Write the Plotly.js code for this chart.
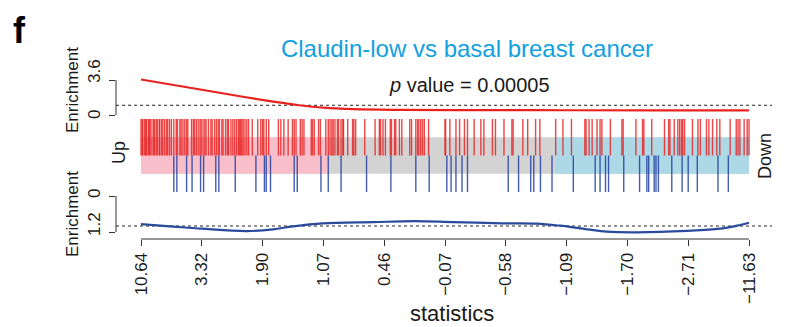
<!DOCTYPE html>
<html>
<head>
<meta charset="utf-8">
<script src="https://cdn.plot.ly/plotly-3.0.1.min.js"></script>
<style>html,body{margin:0;padding:0;background:#fff;}#chart{width:787px;height:327px;}</style>
</head>
<body>
<div id="chart"></div>
<script>
// ---------------- data ----------------
const nGenes = 1000;                       // rank axis 0..nGenes
const tickRanks = [0, 100, 200, 300, 400, 500, 600, 700, 800, 900, 1000];
const tickLabels = ["10.64", "3.32", "1.90", "1.07", "0.46", "\u22120.07", "\u22120.58", "\u22121.09", "\u22121.70", "\u22122.71", "\u221211.63"];

// ranks of the "up" gene set (red bars)
const upRanks = [0,2,3,6,8,9,12,14,15,18,21,22,25,27,30,31,34,36,39,42,44,47,50,54,58,60,64,66,69,72,75,77,83,86,88,91,94,97,99,102,105,107,111,115,117,121,124,127,129,133,135,139,142,144,148,151,154,157,160,162,164,166,168,171,174,177,183,192,197,200,202,206,210,226,230,235,242,249,252,255,262,265,268,280,282,285,292,295,304,308,311,314,316,319,323,325,329,332,333,340,348,350,353,368,385,392,394,398,402,410,412,417,419,425,429,442,445,452,455,457,460,463,466,473,500,501,508,518,524,532,537,548,559,564,578,583,597,610,612,628,636,649,656,682,694,708,730,732,737,742,750,755,758,772,791,793,814,825,827,840,861,868,870,877,883,886,889,891,894,907,916,920,930,934,940,947,952,969,979,982,985,992,997,1000];

// ranks of the "down" gene set (blue bars)
const downRanks = [54,59,75,84,98,103,123,128,155,189,203,206,213,252,257,296,308,329,371,411,452,474,503,510,518,528,537,604,621,641,646,657,676,711,747,755,764,769,794,820,832,835,844,847,851,873,890,900,915,949,966];

// statistic-threshold bands (rank where stat leaves the middle band)
const upBandEnd = 308;
const downBandStart = 681;

// running enrichment, up set (top panel)
const upCurveRanks = [0, 100, 170, 220, 260, 300, 350, 420, 550, 700, 850, 1000];
const upCurveVals  = [3.65, 2.6, 1.85, 1.35, 1.0, 0.75, 0.6, 0.53, 0.5, 0.49, 0.48, 0.47];

// running enrichment, down set (bottom panel)
const downCurveRanks = [0, 53, 100, 174, 217, 250, 299, 382, 450, 513, 595, 651, 689, 734, 766, 816, 898, 952, 980, 1000];
const downCurveVals  = [0.94, 1.02, 1.09, 1.17, 1.11, 1.01, 0.91, 0.87, 0.84, 0.87, 0.91, 0.92, 0.99, 1.11, 1.19, 1.21, 1.16, 1.09, 0.99, 0.89];

const upAxisTicks = [0, 3.6];
const downAxisTicks = [0, 1.2];
const refLevel = 1;
const titleText = "Claudin-low vs basal breast cancer";
const pText = "<i>p</i> value = 0.00005";

// ---------------- layout helpers ----------------
const W = 787, H = 327, ML = 116, MR = 15;
const plotW = W - ML - MR;
const px2x = p => (p - ML) / plotW;
const py2y = p => 1 - p / H;
const FONT = "Liberation Sans, Arial, Helvetica, sans-serif";
const TXT = "#1a1a1a";
const AX = "#333333";

// x mapping: rank 0 at px 141, rank nGenes at px 749, plot from 116 to 772
const rpp = nGenes / (749 - 141);
const xRange = [-(141 - ML) * rpp, nGenes + ((W - MR) - 749) * rpp];

function bars(ranks, y0, y1) {
  const x = [], y = [];
  ranks.forEach(r => { x.push(r, r, null); y.push(y0, y1, null); });
  return {x, y};
}
function rect(x0, x1, y0, y1) {
  return {x: [x0, x1, x1, x0, x0], y: [y0, y0, y1, y1, y0]};
}

const greyR = rect(tickRanks[0], nGenes, 1, 3);
const pinkR = rect(tickRanks[0], upBandEnd, 1, 3);
const blueR = rect(downBandStart, nGenes, 1, 3);
const upB = bars(upRanks, 2, 4);
const dnB = bars(downRanks, 0, 2);

const traces = [
  {type: "scatter", mode: "lines", x: greyR.x, y: greyR.y, yaxis: "y2", fill: "toself", fillcolor: "#d3d3d3", line: {width: 0}, hoverinfo: "skip"},
  {type: "scatter", mode: "lines", x: pinkR.x, y: pinkR.y, yaxis: "y2", fill: "toself", fillcolor: "#f8bfcb", line: {width: 0}, hoverinfo: "skip"},
  {type: "scatter", mode: "lines", x: blueR.x, y: blueR.y, yaxis: "y2", fill: "toself", fillcolor: "#add8e6", line: {width: 0}, hoverinfo: "skip"},
  {type: "scatter", mode: "lines", x: upB.x, y: upB.y, yaxis: "y2", line: {color: "rgba(232,30,30,0.82)", width: 1.4}, hoverinfo: "skip"},
  {type: "scatter", mode: "lines", x: dnB.x, y: dnB.y, yaxis: "y2", line: {color: "rgba(35,65,160,0.85)", width: 1.4}, hoverinfo: "skip"},
  {type: "scatter", mode: "lines", x: upCurveRanks, y: upCurveVals, yaxis: "y", line: {color: "#e8231f", width: 2.2, shape: "spline"}, cliponaxis: false},
  {type: "scatter", mode: "lines", x: downCurveRanks, y: downCurveVals, yaxis: "y3", line: {color: "#2a4a9c", width: 2.2, shape: "spline"}, cliponaxis: false}
];

const hiddenY = {showgrid: false, zeroline: false, showline: false, showticklabels: false, ticks: ""};

const layout = {
  width: W, height: H,
  margin: {l: ML, r: MR, t: 0, b: 0, pad: 0},
  paper_bgcolor: "#fff", plot_bgcolor: "rgba(0,0,0,0)",
  showlegend: false,
  font: {family: FONT, color: TXT},
  title: {text: titleText, font: {family: FONT, size: 24, color: "#13a0e0"}, x: 467 / W, xref: "container", xanchor: "center", y: 1 - 49 / H, yref: "container", yanchor: "middle"},
  xaxis: {
    domain: [0, 1], range: xRange, anchor: "y3",
    tickmode: "array", tickvals: tickRanks, ticktext: tickLabels, tickangle: -90,
    ticks: "outside", ticklen: 6, tickcolor: AX, tickwidth: 1,
    tickfont: {family: FONT, size: 17, color: TXT},
    showgrid: false, zeroline: false, showline: false
  },
  yaxis: {
    domain: [py2y(118), py2y(77)], range: [-(118 - 115) / (35 / 3.6), 3.6 + (80 - 77) / (35 / 3.6)],
    tickmode: "array", tickvals: upAxisTicks, ticks: "outside", ticklen: 6, tickcolor: AX,
    showticklabels: false, showgrid: false, zeroline: false, showline: false
  },
  yaxis2: Object.assign({domain: [py2y(192), py2y(119)], range: [0, 4], anchor: "x"}, hiddenY),
  yaxis3: {
    domain: [py2y(239), py2y(190)], range: [1.2 + 7 / 30, -6 / 30],
    tickmode: "array", tickvals: downAxisTicks, ticks: "outside", ticklen: 6, tickcolor: AX,
    showticklabels: false, showgrid: false, zeroline: false, showline: false
  },
  shapes: [
    {type: "line", xref: "x", yref: "y3 domain", x0: tickRanks[0], x1: nGenes, y0: 0, y1: 0, line: {color: AX, width: 1}},
    {type: "line", xref: "paper", yref: "y", x0: 0, x1: 0, y0: upAxisTicks[0], y1: upAxisTicks[1], line: {color: AX, width: 1}},
    {type: "line", xref: "paper", yref: "y3", x0: 0, x1: 0, y0: downAxisTicks[0], y1: downAxisTicks[1], line: {color: AX, width: 1}},
    {type: "line", xref: "paper", yref: "y", x0: 0, x1: 1, y0: refLevel, y1: refLevel, line: {color: "#222", width: 1, dash: "3px,3px"}, layer: "below"},
    {type: "line", xref: "paper", yref: "y3", x0: 0, x1: 1, y0: refLevel, y1: refLevel, line: {color: "#222", width: 1, dash: "3px,3px"}, layer: "below"}
  ],
  annotations: [
    {text: "<b>f</b>", xref: "paper", yref: "paper", x: px2x(19), y: py2y(30), xanchor: "center", yanchor: "middle", showarrow: false, font: {size: 36, color: "#000"}},
    {text: pText, xref: "paper", yref: "paper", x: px2x(469.5), y: py2y(85), xanchor: "center", yanchor: "middle", showarrow: false, font: {size: 20, color: TXT}},
    {text: "Enrichment", xref: "paper", yref: "paper", x: px2x(72), y: py2y(90), textangle: -90, xanchor: "center", yanchor: "middle", showarrow: false, font: {size: 17, color: TXT}},
    {text: "Enrichment", xref: "paper", yref: "paper", x: px2x(72), y: py2y(214), textangle: -90, xanchor: "center", yanchor: "middle", showarrow: false, font: {size: 17, color: TXT}},
    {text: "3.6", xref: "paper", yref: "paper", x: px2x(94), y: py2y(71), textangle: -90, xanchor: "center", yanchor: "middle", showarrow: false, font: {size: 17, color: TXT}},
    {text: "0", xref: "paper", yref: "paper", x: px2x(94), y: py2y(115), textangle: -90, xanchor: "center", yanchor: "middle", showarrow: false, font: {size: 17, color: TXT}},
    {text: "0", xref: "paper", yref: "paper", x: px2x(94), y: py2y(194), textangle: -90, xanchor: "center", yanchor: "middle", showarrow: false, font: {size: 17, color: TXT}},
    {text: "1.2", xref: "paper", yref: "paper", x: px2x(94), y: py2y(224), textangle: -90, xanchor: "center", yanchor: "middle", showarrow: false, font: {size: 17, color: TXT}},
    {text: "Up", xref: "paper", yref: "paper", x: px2x(119), y: py2y(153), textangle: -90, xanchor: "center", yanchor: "middle", showarrow: false, font: {size: 18, color: TXT}},
    {text: "Down", xref: "paper", yref: "paper", x: px2x(765), y: py2y(156), textangle: -90, xanchor: "center", yanchor: "middle", showarrow: false, font: {size: 18, color: TXT}},
    {text: "statistics", xref: "paper", yref: "paper", x: px2x(451.5), y: py2y(313), xanchor: "center", yanchor: "middle", showarrow: false, font: {size: 22, color: TXT}}
  ]
};

Plotly.newPlot("chart", traces, layout, {displayModeBar: false, staticPlot: true});
</script>
</body>
</html>
